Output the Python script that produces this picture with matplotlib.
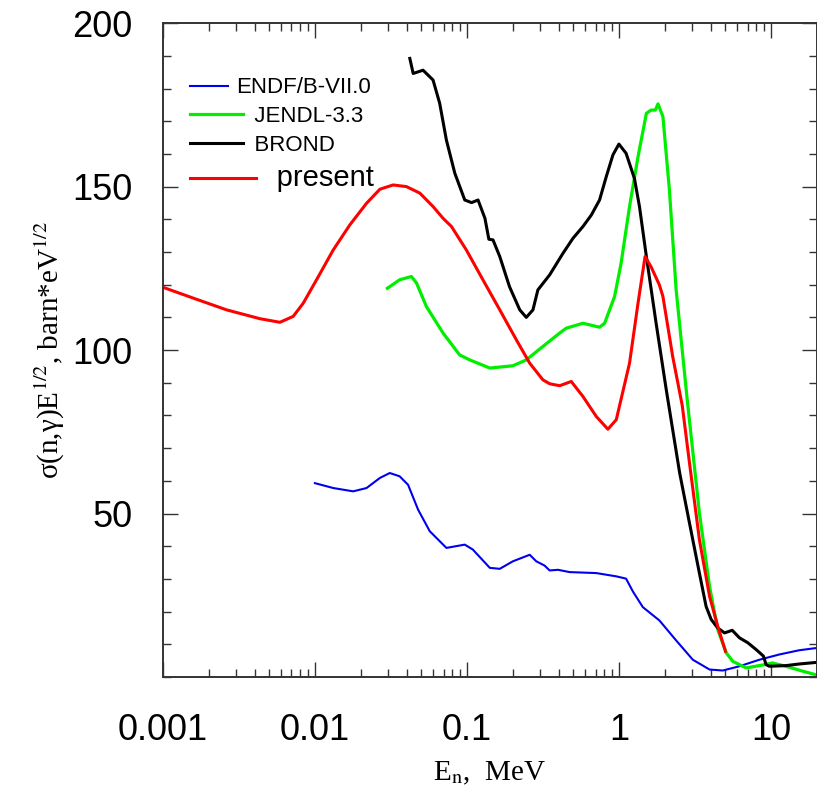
import matplotlib
matplotlib.use("Agg")
import matplotlib.pyplot as plt
from matplotlib.legend_handler import HandlerLine2D
from matplotlib.ticker import FixedLocator, MultipleLocator, LogLocator, NullFormatter

# values (E in MeV, sigma*sqrt(E) in barn*eV^1/2)
endf_e = [0.00998, 0.0132, 0.0178, 0.0218, 0.0267, 0.031, 0.036, 0.0409, 0.0476, 0.0568,
          0.0731, 0.0965, 0.109, 0.141, 0.164, 0.2, 0.258, 0.285, 0.323, 0.349,
          0.396, 0.472, 0.707, 0.957, 1.11, 1.23, 1.43, 1.84, 2.37, 3.05,
          3.93, 4.8, 6.18, 8.36, 11.3, 15.3, 20]
endf_y = [59.3, 57.8, 56.8, 57.8, 60.9, 62.4, 61.4, 58.8, 51.2, 44.6,
          39.5, 40.5, 39.0, 33.4, 33.1, 35.4, 37.4, 35.4, 34.1, 32.6,
          32.8, 32.1, 31.8, 30.8, 30.1, 26.2, 21.4, 17.3, 11.2, 5.3,
          2.3, 2.0, 3.3, 5.3, 6.9, 8.2, 8.9]

jendl_e = [0.0299, 0.036, 0.043, 0.0465, 0.054, 0.0695, 0.0894, 0.104, 0.141, 0.2,
           0.245, 0.315, 0.406, 0.449, 0.578, 0.743, 0.802, 0.933, 1.03, 1.17,
           1.33, 1.51, 1.62, 1.73, 1.8, 1.94, 2.14, 2.37, 2.8, 3.37,
           3.93, 4.45, 5.06, 5.59, 6.84, 8.36, 10.2, 12.5, 16.1, 20]
jendl_y = [118.9, 121.5, 122.5, 120.5, 113.3, 105.2, 98.5, 97.0, 94.5, 95.2,
           97.0, 101.1, 105.2, 106.7, 108.2, 107.0, 108.2, 116.4, 126.6, 143.9,
           159.1, 172.4, 173.4, 173.4, 175.3, 171.4, 149.0, 118.4, 85.0, 50.2,
           27.7, 14.5, 7.4, 4.8, 2.8, 3.5, 4.3, 3.3, 1.8, 0.6]

brond_e = [0.042, 0.0442, 0.0513, 0.0597, 0.066, 0.0731, 0.083, 0.0965, 0.107, 0.118,
           0.131, 0.139, 0.148, 0.164, 0.19, 0.222, 0.245, 0.271, 0.292, 0.349,
           0.427, 0.497, 0.578, 0.656, 0.743, 0.822, 0.91, 0.996, 1.11, 1.26,
           1.36, 1.51, 1.75, 2.04, 2.25, 2.5, 2.9, 3.37, 3.73, 4.03,
           4.45, 4.93, 5.54, 6.18, 7.01, 7.96, 8.89, 9.25, 9.72, 12.5, 15.3, 20]
brond_y = [189.2, 184.6, 185.6, 182.6, 175.5, 164.2, 154.1, 145.9, 145.1, 145.9,
           140.3, 133.9, 133.7, 128.6, 119.4, 112.3, 110.0, 112.3, 118.4, 123.0,
           129.6, 134.2, 137.8, 141.3, 145.9, 153.0, 159.7, 163.0, 160.2, 152.5,
           143.9, 128.6, 108.2, 87.9, 75.6, 62.4, 47.1, 31.8, 21.6, 17.6,
           15.0, 13.5, 14.3, 12.0, 10.5, 8.4, 6.4, 3.8, 3.3, 3.5, 4.0, 4.5]

present_e = [0.001, 0.00158, 0.00262, 0.00434, 0.00587, 0.00718, 0.00835, 0.01023, 0.01316, 0.01694,
             0.0218, 0.0267, 0.0326, 0.0399, 0.0489, 0.0597, 0.0695, 0.0789, 0.0989, 0.127,
             0.164, 0.211, 0.258, 0.315, 0.349, 0.406, 0.484, 0.578, 0.707, 0.843,
             0.957, 1.17, 1.33, 1.48, 1.62, 1.84, 1.94, 2.25, 2.6, 2.9,
             3.37, 3.93, 4.45, 5.0]
present_y = [119.2, 115.9, 112.3, 109.6, 108.5, 110.3, 114.3, 121.5, 130.6, 138.3,
             144.9, 149.2, 150.5, 150.0, 148.0, 143.9, 140.3, 137.8, 130.6, 121.5,
             112.3, 103.1, 96.0, 90.9, 89.7, 89.1, 90.4, 85.8, 79.7, 75.8,
             78.7, 96.0, 114.3, 128.6, 125.5, 119.9, 116.4, 98.0, 83.0, 65.5,
             42.0, 24.7, 15.5, 7.9]

plt.rcParams['mathtext.fontset'] = 'stix'

fig = plt.figure(figsize=(8.17, 7.97), dpi=100)
ax = fig.add_axes([0.1995, 0.1505, 0.8005, 0.8205])

l1, = ax.plot(endf_e, endf_y, color='#0000ee', lw=1.5)
l2, = ax.plot(jendl_e, jendl_y, color='#00ee00', lw=2.3)
l3, = ax.plot(brond_e, brond_y, color='black', lw=2.2)
l4, = ax.plot(present_e, present_y, color='#ff0000', lw=2.2)

ax.set_xscale('log')
ax.set_xlim(0.001, 20)
ax.set_ylim(0, 200)

ax.xaxis.set_major_locator(FixedLocator([0.001, 0.01, 0.1, 1, 10]))
ax.xaxis.set_minor_locator(LogLocator(base=10, subs=range(2, 10)))
ax.xaxis.set_minor_formatter(NullFormatter())
ax.set_xticklabels(['0.001', '0.01', '0.1', '1', '10'])
ax.yaxis.set_major_locator(FixedLocator([50, 100, 150, 200]))
ax.yaxis.set_minor_locator(MultipleLocator(10))

ax.tick_params(which='both', direction='in', top=True, right=True,
               color='#333333', width=1.0, labelsize=26)
ax.tick_params(which='major', length=11)
ax.tick_params(which='minor', length=6)
for lab in ax.get_xticklabels() + ax.get_yticklabels():
    lab.set_family('Liberation Sans')
ax.tick_params(axis='x', pad=26)
ax.tick_params(axis='y', pad=22)
for sp in ax.spines.values():
    sp.set_color('#333333')
    sp.set_linewidth(1.4)

ax.set_xlabel(r'E$_{\rm n}$,  MeV', family='Liberation Serif', fontsize=21, labelpad=8)
ax.set_ylabel('σ(n,γ)E$^{1/2}$, barn*eV$^{1/2}$',
              family='Liberation Serif', fontsize=21, labelpad=4)


class StretchLine(HandlerLine2D):
    def __init__(self, frac):
        super().__init__()
        self.frac = frac

    def create_artists(self, legend, orig_handle, xdescent, ydescent, width,
                       height, fontsize, trans):
        return super().create_artists(legend, orig_handle, xdescent, ydescent,
                                      width * self.frac, height, fontsize, trans)


leg = ax.legend([l1, l2, l3, l4],
                ['ENDF/B-VII.0', '   JENDL-3.3', '   BROND', '     present'],
                handler_map={l1: StretchLine(1.0), l2: StretchLine(1.4),
                             l3: StretchLine(1.4), l4: StretchLine(1.75)},
                loc='upper left', bbox_to_anchor=(0.041, 0.917),
                frameon=False, handlelength=1.7, handletextpad=0.4,
                labelspacing=0.35, borderpad=0, borderaxespad=0,
                prop={'family': 'Liberation Sans', 'size': 16})
for t in leg.get_texts()[3:]:
    t.set_fontsize(21)

fig.savefig('out.png', dpi=100)
